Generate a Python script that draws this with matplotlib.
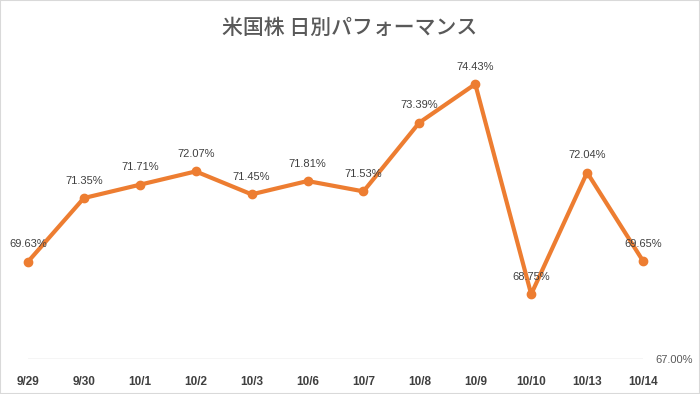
import matplotlib
matplotlib.use("Agg")
import matplotlib.pyplot as plt
from matplotlib.patches import Rectangle

dates = ["9/29", "9/30", "10/1", "10/2", "10/3", "10/6", "10/7", "10/8", "10/9", "10/10", "10/13", "10/14"]
values = [69.63, 71.35, 71.71, 72.07, 71.45, 71.81, 71.53, 73.39, 74.43, 68.75, 72.04, 69.65]
title = "米国株 日別パフォーマンス"
y_min, y_max = 67.0, 75.0

fig = plt.figure(figsize=(7.0, 3.94), dpi=100)
fig.patch.set_facecolor("white")
fig.patches.append(Rectangle((0, 0), 1, 1, transform=fig.transFigure, fill=False,
                             edgecolor="#D9D9D9", linewidth=1.5, zorder=0))

ax = fig.add_axes([28/700, 1 - 359/394, (643 - 28)/700, (359 - 63)/394])
x = list(range(len(dates)))
ax.plot(x, values, color="#ED7D31", linewidth=3.0, marker="o", markersize=6,
        solid_capstyle="round", solid_joinstyle="round", zorder=3, clip_on=False)

for xi, v in zip(x, values):
    ax.annotate(f"{v:.2f}%", (xi, v), xytext=(0, 12.5), textcoords="offset points",
                ha="center", va="center", fontsize=8, color="#404040",
                family=["Liberation Sans", "DejaVu Sans"], zorder=4)

ax.set_xlim(0, len(dates) - 1)
ax.set_ylim(y_min, y_max)
for s in ax.spines.values():
    s.set_visible(False)
ax.axhline(y_min, color="#D0D0D0", linewidth=1.0, zorder=1)

ax.set_xticks(x)
ax.set_xticklabels(dates, fontsize=8.5, fontweight="bold", color="#404040",
                   family=["Liberation Sans", "DejaVu Sans"])
ax.tick_params(axis="x", length=0, pad=12)
ax.yaxis.tick_right()
ax.set_yticks([y_min])
ax.set_yticklabels([f"{y_min:.2f}%"], fontsize=8, color="#595959",
                   family=["Liberation Sans", "DejaVu Sans"])
ax.tick_params(axis="y", length=0, pad=9)

fig.text(0.5, 1 - 28/394, title, ha="center", va="center", fontsize=15,
         color="#595959", fontweight="medium",
         family=["Noto Sans CJK JP", "DejaVu Sans"])

fig.savefig("out.png", dpi=100)
